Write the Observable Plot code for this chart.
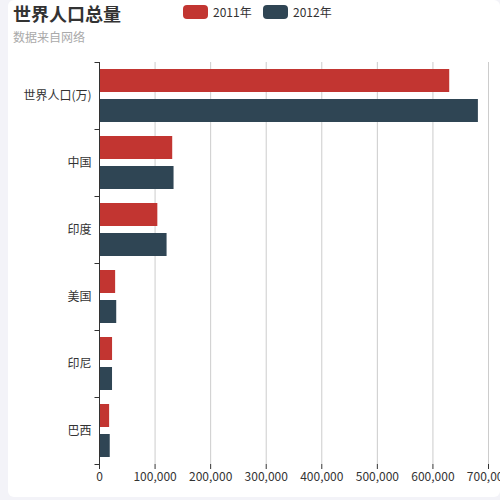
<!DOCTYPE html>
<html>
<head>
<meta charset="utf-8">
<script src="https://cdn.jsdelivr.net/npm/d3@7"></script>
<script src="https://cdn.jsdelivr.net/npm/@observablehq/plot@0.6"></script>
<style>
  html, body { margin: 0; padding: 0; }
  body { font-family: "Noto Sans CJK SC", "Noto Sans", sans-serif; }
  #wrap { position: relative; width: 500px; height: 500px; background: #f3f3f8; overflow: hidden; }
  #card { position: absolute; left: 8px; top: 0; width: 492px; height: 497px; background: #fff; border-radius: 6px; overflow: hidden; }
  #head { position: relative; height: 50px; }
  #title { position: absolute; left: 5px; top: 0px; font-size: 18px; font-weight: bold; color: #333; line-height: 26px; }
  #sub { position: absolute; left: 5px; top: 29px; font-size: 12px; color: #aaa; line-height: 16px; }
  .lg { position: absolute; top: 4px; display: flex; align-items: center; font-size: 12px; color: #333; line-height: 16px; }
  .sw { width: 25px; height: 14px; border-radius: 4px; margin-right: 5px; }
  svg { display: block; }
</style>
</head>
<body>
<div id="wrap">
  <div id="card">
    <div id="head">
      <div id="title">世界人口总量</div>
      <div id="sub">数据来自网络</div>
      <div id="legend"></div>
    </div>
    <div id="chart"></div>
  </div>
</div>
<script>
const categories = ["巴西", "印尼", "美国", "印度", "中国", "世界人口(万)"];
const seriesNames = ["2011年", "2012年"];
const values2011 = [18203, 23489, 29034, 104970, 131744, 630230];
const values2012 = [19325, 23438, 31000, 121594, 134141, 681807];
const colors = ["#c23531", "#2f4554"];
const xTicks = [0, 100000, 200000, 300000, 400000, 500000, 600000, 700000];

const data = [];
categories.forEach((c, i) => {
  data.push({cat: c, series: seriesNames[0], value: values2011[i]});
  data.push({cat: c, series: seriesNames[1], value: values2012[i]});
});

// legend
const legend = document.getElementById("legend");
const lgLeft = [175, 255];
seriesNames.forEach((s, i) => {
  const el = document.createElement("div");
  el.className = "lg";
  el.style.left = lgLeft[i] + "px";
  el.innerHTML = `<div class="sw" style="background:${colors[i]}"></div><span>${s}</span>`;
  legend.appendChild(el);
});

const fyDomain = categories.slice().reverse();
const tickSym = {
  draw(ctx) { ctx.moveTo(-5, 0); ctx.lineTo(0, 0); }
};

const chart = Plot.plot({
  width: 492,
  height: 447,
  marginTop: 10,
  marginBottom: 32,
  marginLeft: 91,
  marginRight: 12,
  style: {fontFamily: "'Noto Sans CJK SC', 'Noto Sans', sans-serif", fontSize: "12px", color: "#333", background: "transparent", overflow: "visible"},
  facet: {marginTop: 0, marginRight: 0, marginBottom: 0, marginLeft: 0},
  fy: {domain: fyDomain, padding: 0, axis: null},
  y: {domain: seriesNames, paddingInner: 0.3 / 1.3, paddingOuter: 0.2212, axis: null},
  x: {domain: [0, 700000], axis: null},
  color: {domain: seriesNames, range: colors},
  marks: [
    Plot.gridX(xTicks.slice(1), {stroke: "#ccc", strokeOpacity: 1, strokeWidth: 1}),
    Plot.barX(data, {fy: "cat", y: "series", x: "value", fill: "series"}),
    Plot.ruleX([0], {stroke: "#333", strokeWidth: 1}),
    Plot.axisFy({anchor: "left", tickSize: 0, tickPadding: 8, label: null, fontSize: 12, fill: "#333"}),
    Plot.dot(categories, {fy: d => d, frameAnchor: "top-left", symbol: tickSym, stroke: "#333", strokeWidth: 1}),
    Plot.dot([categories[0]], {fy: d => d, frameAnchor: "bottom-left", symbol: tickSym, stroke: "#333", strokeWidth: 1}),
    Plot.axisX({anchor: "bottom", ticks: xTicks, tickFormat: d3.format(","), tickSize: 5, tickPadding: 3, label: null, line: true, stroke: "#333", color: "#333", fill: "#333", fontSize: 12})
  ]
});
document.getElementById("chart").appendChild(chart);
</script>
</body>
</html>
